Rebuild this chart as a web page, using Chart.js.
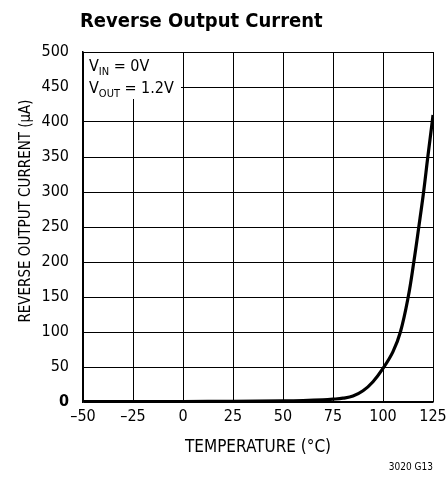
<!DOCTYPE html>
<html>
<head>
<meta charset="utf-8">
<script src="https://cdn.jsdelivr.net/npm/chart.js@4/dist/chart.umd.min.js"></script>
<style>
  html, body { margin: 0; padding: 0; background: #fff; }
  #wrap { width: 448px; height: 477px; }
</style>
</head>
<body>
<div id="wrap"><canvas id="revChart" width="448" height="477"></canvas></div>
<script>
// curve: temperature (°C) vs reverse output current (µA)
const temps = [-50, 0, 25, 50, 60, 70, 75, 80, 85, 90, 95, 100, 105, 108.7, 112.6, 115.4, 117.9, 120.3, 122.4, 124.6, 125];
const current = [0.5, 0.7, 1, 1.5, 2, 3, 4, 5.5, 8.5, 16, 29, 48, 72, 100, 150, 200, 250, 300, 350, 400, 410];

const xTicks = [-50, -25, 0, 25, 50, 75, 100, 125];
const xTickLabels = ["–50", "–25", "0", "25", "50", "75", "100", "125"];
const yTicks = [0, 50, 100, 150, 200, 250, 300, 350, 400, 450, 500];

const FONT = "'DejaVu Sans Condensed', 'Liberation Sans', sans-serif";

const points = temps.map((t, i) => ({ x: t, y: current[i] }));

// titles, conditions box and figure number
const decor = {
  id: "decor",
  afterDatasetsDraw(chart) {
    const c = chart.ctx;
    const area = chart.chartArea;
    c.save();
    c.fillStyle = "#000";

    c.font = "bold 20px " + FONT;
    c.textAlign = "left";
    c.textBaseline = "alphabetic";
    c.fillText("Reverse Output Current", 80, 27);

    // conditions box
    c.fillStyle = "#fff";
    c.fillRect(area.left + 1, area.top + 1, 97, 46);
    c.fillStyle = "#000";
    let x = 89;
    c.font = "16px " + FONT;
    c.fillText("V", x, 71);
    x += c.measureText("V").width;
    c.font = "11px " + FONT;
    c.fillText("IN", x, 75);
    x += c.measureText("IN").width;
    c.font = "16px " + FONT;
    c.fillText(" = 0V", x, 71);

    x = 89;
    c.fillText("V", x, 93);
    x += c.measureText("V").width;
    c.font = "11px " + FONT;
    c.fillText("OUT", x, 97);
    x += c.measureText("OUT").width;
    c.font = "16px " + FONT;
    c.fillText(" = 1.2V", x, 93);

    c.font = "17px " + FONT;
    c.textAlign = "center";
    c.fillText("TEMPERATURE (°C)", (area.left + area.right) / 2, 452);

    c.save();
    c.font = "15px " + FONT;
    c.translate(30, 211);
    c.rotate(-Math.PI / 2);
    c.fillText("REVERSE OUTPUT CURRENT (µA)", 0, 0);
    c.restore();

    c.font = "10px " + FONT;
    c.textAlign = "right";
    c.fillText("3020 G13", 433, 470);
    c.restore();
  }
};

new Chart(document.getElementById("revChart"), {
  type: "line",
  data: {
    datasets: [
      {
        data: points,
        borderColor: "#000",
        borderWidth: 3.2,
        pointRadius: 0,
        tension: 0.4,
        fill: false,
      },
    ],
  },
  options: {
    responsive: false,
    animation: false,
    layout: { padding: { top: 52, right: 15, left: 0, bottom: 0 } },
    plugins: {
      legend: { display: false },
      tooltip: { enabled: false },
    },
    scales: {
      x: {
        type: "linear",
        min: -50,
        max: 125,
        afterFit(scale) {
          scale.height = 75;
          scale.paddingLeft = 0;
          scale.paddingRight = 0;
        },
        afterBuildTicks(scale) { scale.ticks = xTicks.map(v => ({ value: v })); },
        ticks: {
          color: "#000",
          font: { family: FONT, size: 16 },
          padding: 5,
          maxRotation: 0,
          callback: (v) => xTickLabels[xTicks.indexOf(v)],
        },
        grid: { color: "#000", lineWidth: 1, drawTicks: false },
        border: { color: "#000", width: 1.5 },
      },
      y: {
        min: 0,
        max: 500,
        afterFit(scale) { scale.width = 83; },
        afterBuildTicks(scale) { scale.ticks = yTicks.map(v => ({ value: v })); },
        ticks: {
          color: "#000",
          font: (ctx) => ({ family: FONT, size: 16, weight: ctx.tick && ctx.tick.value === 0 ? "bold" : "normal" }),
          padding: 14,
        },
        grid: { color: "#000", lineWidth: 1, drawTicks: false },
        border: { color: "#000", width: 1.5 },
      },
    },
  },
  plugins: [decor],
});
</script>
</body>
</html>
